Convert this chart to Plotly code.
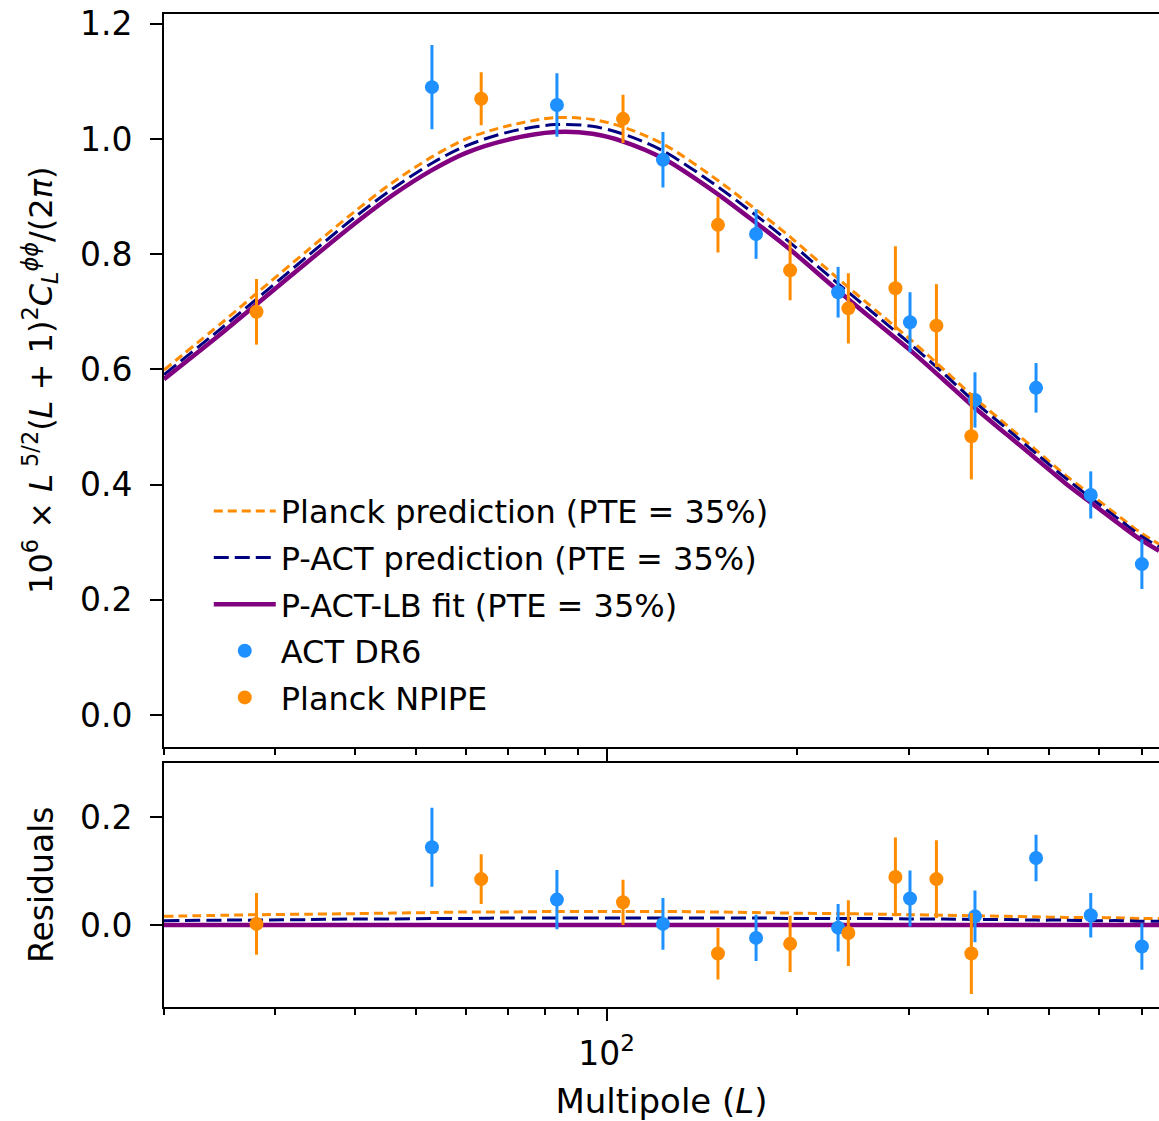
import math
import plotly.graph_objects as go
from plotly.subplots import make_subplots

# ---------------- data ----------------
model_L = [20, 25, 28, 34, 40, 46, 53, 60, 70, 83, 95, 106, 123, 150, 172, 195,
           232, 270, 302, 340, 382, 430, 477, 530, 582, 650, 701, 746]
fit_lb = [0.583, 0.668, 0.713, 0.790, 0.853, 0.903, 0.946, 0.976, 0.999, 1.012, 1.009, 0.996,
          0.966, 0.904, 0.855, 0.808, 0.737, 0.677, 0.633, 0.583, 0.533, 0.486, 0.445, 0.403,
          0.369, 0.329, 0.303, 0.285]
planck_pred = [0.599, 0.686, 0.732, 0.810, 0.874, 0.925, 0.969, 1.000, 1.023, 1.037, 1.034, 1.021,
               0.991, 0.928, 0.878, 0.830, 0.758, 0.697, 0.652, 0.601, 0.550, 0.502, 0.460, 0.417,
               0.383, 0.342, 0.315, 0.297]
pact_pred = [0.591, 0.677, 0.722, 0.800, 0.864, 0.914, 0.958, 0.988, 1.012, 1.025, 1.022, 1.009,
             0.979, 0.917, 0.868, 0.820, 0.749, 0.689, 0.644, 0.594, 0.543, 0.496, 0.454, 0.412,
             0.377, 0.337, 0.310, 0.292]
# residual curves (model - fit)
planck_pred_res = [0.016, 0.018, 0.019, 0.020, 0.021, 0.022, 0.023, 0.024, 0.024, 0.025, 0.025, 0.025,
                   0.025, 0.024, 0.023, 0.022, 0.021, 0.020, 0.019, 0.018, 0.017, 0.016, 0.015, 0.014,
                   0.014, 0.013, 0.012, 0.012]
pact_pred_res = [0.008, 0.009, 0.009, 0.010, 0.011, 0.011, 0.012, 0.012, 0.013, 0.013, 0.013, 0.013,
                 0.013, 0.013, 0.013, 0.012, 0.012, 0.012, 0.011, 0.011, 0.010, 0.010, 0.009, 0.009,
                 0.008, 0.008, 0.007, 0.007]
fit_lb_res = [0.0] * len(model_L)

act_L = [53.0, 83.5, 122.8, 172.3, 232.2, 301.6, 382, 477, 582, 701]
act_val = [1.090, 1.059, 0.964, 0.835, 0.734, 0.682, 0.547, 0.568, 0.382, 0.262]
act_err = [0.073, 0.055, 0.048, 0.043, 0.044, 0.052, 0.048, 0.043, 0.041, 0.043]
act_res = [0.144, 0.047, 0.002, -0.024, -0.005, 0.049, 0.016, 0.124, 0.018, -0.040]

planck_L = [28.0, 63.4, 106.2, 150, 195, 241, 286, 332, 377]
planck_val = [0.700, 1.070, 1.035, 0.851, 0.772, 0.706, 0.741, 0.676, 0.484]
planck_err = [0.057, 0.046, 0.042, 0.048, 0.052, 0.061, 0.073, 0.072, 0.075]
planck_res = [0.002, 0.085, 0.042, -0.053, -0.035, -0.015, 0.089, 0.085, -0.053]

x_major = [100]
x_major_text = ["10<sup>2</sup>"]
x_minor = [20, 30, 40, 50, 60, 70, 80, 90, 200, 300, 400, 500, 600, 700]
y_top_ticks = [0.0, 0.2, 0.4, 0.6, 0.8, 1.0, 1.2]
y_bot_ticks = [0.0, 0.2]

# ---------------- styles ----------------
ORANGE = "#ff8c00"
NAVY = "#000080"
PURPLE = "#800080"
BLUE = "#1e90ff"
FONT = "DejaVu Sans"

fig = make_subplots(rows=2, cols=1)

def add_models(row, ys, show):
    names = ["Planck prediction (PTE = 35%)", "P-ACT prediction (PTE = 35%)",
             "P-ACT-LB fit (PTE = 35%)"]
    styles = [dict(color=ORANGE, dash="9px,5px", width=3),
              dict(color=NAVY, dash="15px,6px", width=3),
              dict(color=PURPLE, width=4.5)]
    for i, (nm, st, y) in enumerate(zip(names, styles, ys)):
        fig.add_trace(go.Scatter(x=model_L, y=y, mode="lines", name=nm,
                                 line=dict(shape="spline", smoothing=0.9, **st),
                                 legendgroup="g%d" % i, showlegend=show),
                      row=row, col=1)

def add_points(row, show, ya, yp):
    fig.add_trace(go.Scatter(x=act_L, y=ya, mode="markers", name="ACT DR6",
                             marker=dict(color=BLUE, size=14),
                             error_y=dict(type="data", array=act_err, color=BLUE,
                                          thickness=3, width=0),
                             legendgroup="g3", showlegend=show), row=row, col=1)
    fig.add_trace(go.Scatter(x=planck_L, y=yp, mode="markers", name="Planck NPIPE",
                             marker=dict(color=ORANGE, size=14),
                             error_y=dict(type="data", array=planck_err, color=ORANGE,
                                          thickness=3, width=0),
                             legendgroup="g4", showlegend=show), row=row, col=1)

add_models(1, [planck_pred, pact_pred, fit_lb], True)
add_points(1, True, act_val, planck_val)
add_models(2, [planck_pred_res, pact_pred_res, fit_lb_res], False)
add_points(2, False, act_res, planck_res)

xcommon = dict(type="log", range=[math.log10(20), math.log10(746)], domain=[0, 1],
               showline=True, linecolor="black", linewidth=2, mirror=True,
               ticks="outside", ticklen=12, tickwidth=2, tickcolor="black",
               tickvals=x_major, ticktext=x_major_text,
               minor=dict(tickvals=x_minor, ticks="outside", ticklen=6, tickwidth=1.6,
                          tickcolor="black", showgrid=False),
               showgrid=False, zeroline=False, automargin=False,
               tickfont=dict(family=FONT, size=33, color="black"))
fig.update_layout(
    xaxis=dict(**xcommon, showticklabels=False),
    xaxis2=dict(**xcommon, showticklabels=True, ticklabelstandoff=4,
                title=dict(text="Multipole (<i>L</i>)", standoff=20,
                           font=dict(family=FONT, size=34, color="black"))),
    yaxis=dict(domain=[0.2623, 1], range=[-0.0547, 1.217],
               tickvals=y_top_ticks, ticktext=["%.1f" % v for v in y_top_ticks],
               ticks="outside", ticklen=12, tickwidth=2, tickcolor="black",
               showline=True, linecolor="black", linewidth=2, mirror=False,
               showgrid=False, zeroline=False, automargin=False, ticklabelstandoff=11,
               tickfont=dict(family=FONT, size=33, color="black"),
               title=dict(text="10<sup>6</sup> × <i>L</i><sup> 5/2</sup>(<i>L</i> + 1)<sup>2</sup>"
                               "<i>C</i><sub><i>L</i></sub><sup><i>ϕϕ</i></sup>/(2<i>π</i>)",
                          standoff=18, font=dict(family=FONT, size=32, color="black"))),
    yaxis2=dict(domain=[0, 0.2462], range=[-0.152, 0.301],
                tickvals=y_bot_ticks, ticktext=["%.1f" % v for v in y_bot_ticks],
                ticks="outside", ticklen=12, tickwidth=2, tickcolor="black",
                showline=True, linecolor="black", linewidth=2, mirror=False,
                showgrid=False, zeroline=False, automargin=False, ticklabelstandoff=11,
                tickfont=dict(family=FONT, size=33, color="black"),
                title=dict(text="Residuals", standoff=16,
                           font=dict(family=FONT, size=33, color="black"))),
    width=1159, height=1121,
    margin=dict(l=164, r=0, t=14, b=114),
    plot_bgcolor="white", paper_bgcolor="white",
    font=dict(family=FONT, color="black"),
    showlegend=True,
    legend=dict(x=0.045, y=0.527, xanchor="left", yanchor="top",
                bgcolor="rgba(0,0,0,0)", traceorder="grouped", tracegroupgap=2,
                itemwidth=62, font=dict(family=FONT, size=32, color="black")),
)

fig.write_html("out.html", config={"displayModeBar": False},
               post_script="document.body.style.margin='0px';"
                           "document.body.style.overflow='hidden';")
